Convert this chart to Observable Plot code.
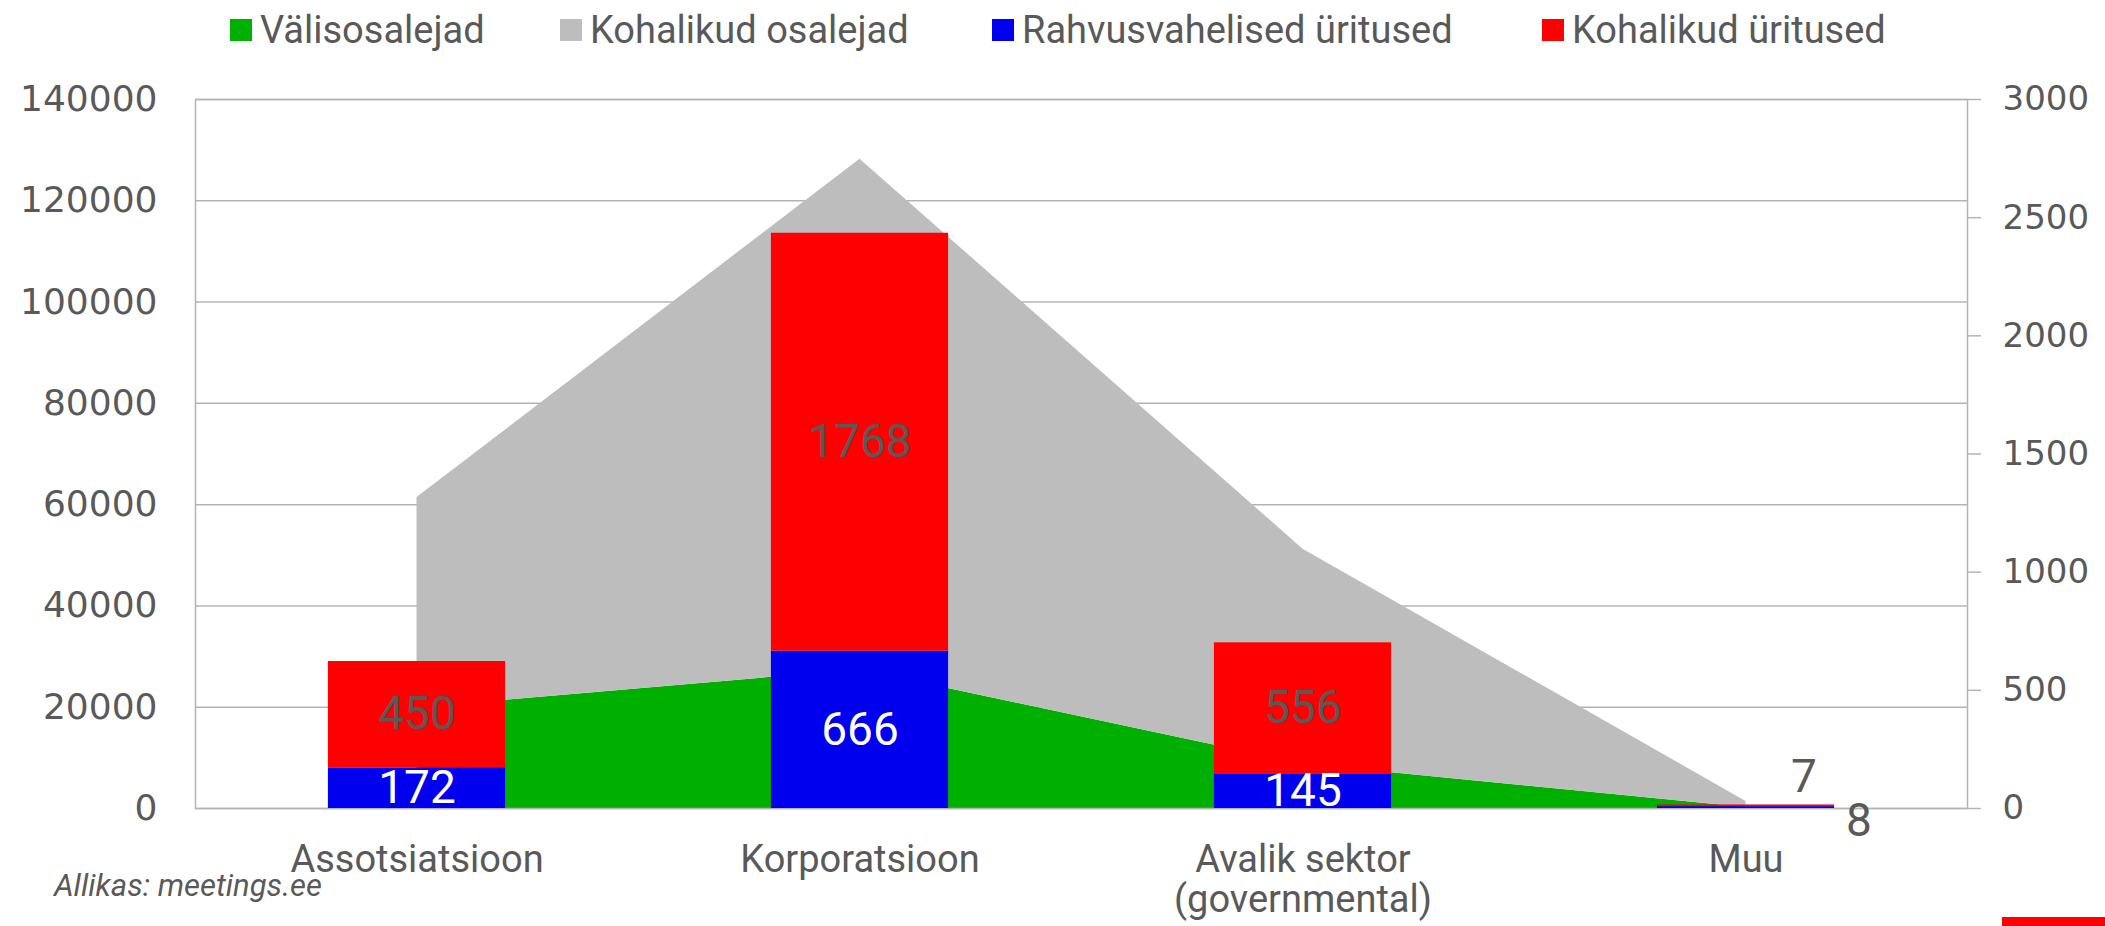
<!DOCTYPE html>
<html>
<head>
<meta charset="utf-8">
<script src="https://cdn.jsdelivr.net/npm/d3@7"></script>
<script src="https://cdn.jsdelivr.net/npm/@observablehq/plot@0.6"></script>
<style>
  html, body { margin: 0; padding: 0; background: #fff; }
  #wrap { position: relative; width: 2105px; height: 926px; overflow: hidden; }
  #legend { position: absolute; left: 0; top: 11px; width: 2105px; height: 40px;
            font-family: Roboto, sans-serif; font-size: 38px; line-height: 38px; color: #595959; }
  #legend .item { position: absolute; top: 0; display: flex; align-items: center; white-space: nowrap; }
  #legend .sw { width: 22px; height: 22px; margin-right: 8px; }
  #caption { position: absolute; left: 54px; top: 870px; font-family: Roboto, sans-serif; font-style: italic;
             font-size: 31px; line-height: 31px; color: #595959; }
  #accent { position: absolute; left: 2002px; top: 917px; width: 103px; height: 9px; background: #ff0000; }
</style>
</head>
<body>
<div id="wrap">
  <div id="chart"></div>
  <div id="legend"></div>
  <div id="caption">Allikas: meetings.ee</div>
  <div id="accent"></div>
</div>
<script>
// ---- data ----
const categories = ["Assotsiatsioon", "Korporatsioon", "Avalik sektor\n(governmental)", "Muu"];
const valisosalejad = [19900, 27400, 8800, 200];          // left axis (area, stacked)
const kohalikudOsalejad = [41500, 100800, 42400, 1200];   // left axis (area, stacked)
const rahvusvahelisedUritused = [172, 666, 145, 8];       // right axis (bar, stacked)
const kohalikudUritused = [450, 1768, 556, 7];            // right axis (bar, stacked)
const leftTicks = [0, 20000, 40000, 60000, 80000, 100000, 120000, 140000];
const rightTicks = [0, 500, 1000, 1500, 2000, 2500, 3000];
const seriesNames = ["Välisosalejad", "Kohalikud osalejad", "Rahvusvahelised üritused", "Kohalikud üritused"];
const seriesColors = ["#00b000", "#bdbdbd", "#0000ee", "#ff0000"];
const legendLeft = [230, 560, 992, 1542];

// ---- derived tables ----
const k = 140000 / 3000; // right-axis units -> left-axis units
const areaTable = categories.flatMap((c, i) => [
  {i, series: seriesNames[0], v: valisosalejad[i]},
  {i, series: seriesNames[1], v: kohalikudOsalejad[i]}
]);
const barTable = categories.flatMap((c, i) => [
  {i, series: seriesNames[2], y1: 0, y2: rahvusvahelisedUritused[i], v: rahvusvahelisedUritused[i]},
  {i, series: seriesNames[3], y1: rahvusvahelisedUritused[i], y2: rahvusvahelisedUritused[i] + kohalikudUritused[i], v: kohalikudUritused[i]}
]);
const last = categories.length - 1;
const gridColor = "#b4b4b4";
const textColor = "#595959";

const chart = Plot.plot({
  width: 2105,
  height: 926,
  marginTop: 99,
  marginBottom: 118,
  marginLeft: 195,
  marginRight: 138,
  style: {fontFamily: "Roboto, sans-serif", fontSize: "37px", color: textColor, background: "white"},
  x: {domain: [-0.5, categories.length - 0.5], axis: null},
  y: {domain: [0, 140000], axis: null},
  color: {domain: seriesNames, range: seriesColors},
  marks: [
    Plot.gridY(leftTicks, {stroke: gridColor, strokeOpacity: 1, strokeWidth: 1.5}),
    Plot.areaY(areaTable, {x: "i", y: "v", z: "series", fill: "series"}),
    Plot.frame({stroke: gridColor, strokeWidth: 1.5}),
    Plot.rectY(barTable, {
      x1: d => d.i - 0.2, x2: d => d.i + 0.2,
      y1: d => d.y1 * k, y2: d => d.y2 * k,
      fill: "series"
    }),
    Plot.axisY(leftTicks, {anchor: "left", label: null, tickSize: 0, tickPadding: 38, tickFormat: d => String(d),
      fontFamily: "DejaVu Sans, sans-serif", fontSize: 36, fill: textColor}),
    Plot.axisY(rightTicks.map(v => v * k), {anchor: "right", label: null, tickSize: 13, tickPadding: 22,
      tickFormat: d => String(Math.round(d / k)), stroke: gridColor, strokeWidth: 1.5,
      fontFamily: "DejaVu Sans, sans-serif", fontSize: 34, fill: textColor}),
    Plot.axisX(categories.map((c, i) => i), {anchor: "bottom", label: null, tickSize: 0, tickPadding: 35,
      tickFormat: i => categories[i], fontSize: 38, lineHeight: 1.06, fill: textColor}),
    // data labels
    Plot.text(barTable.filter(d => d.i !== last && d.series === seriesNames[2]), {
      x: "i", y: d => (d.y1 + d.y2) / 2 * k, text: d => String(d.v),
      fill: "white", fontSize: 46
    }),
    Plot.text(barTable.filter(d => d.i !== last && d.series === seriesNames[3]), {
      x: "i", y: d => (d.y1 + d.y2) / 2 * k, text: d => String(d.v),
      fill: textColor, fontSize: 46
    }),
    Plot.text(barTable.filter(d => d.i === last && d.series === seriesNames[3]), {
      x: "i", y: d => (d.y1 + d.y2) / 2 * k, text: d => String(d.v),
      fill: textColor, fontSize: 46, dx: 58, dy: -29
    }),
    Plot.text(barTable.filter(d => d.i === last && d.series === seriesNames[2]), {
      x: "i", y: d => (d.y1 + d.y2) / 2 * k, text: d => String(d.v),
      fill: textColor, fontSize: 46, dx: 113, dy: 14
    })
  ]
});
document.getElementById("chart").appendChild(chart);

// legend
const legend = document.getElementById("legend");
seriesNames.forEach((name, j) => {
  const item = document.createElement("div");
  item.className = "item";
  item.style.left = legendLeft[j] + "px";
  const sw = document.createElement("div");
  sw.className = "sw";
  sw.style.background = seriesColors[j];
  const label = document.createElement("span");
  label.textContent = name;
  item.appendChild(sw);
  item.appendChild(label);
  legend.appendChild(item);
});
</script>
</body>
</html>
